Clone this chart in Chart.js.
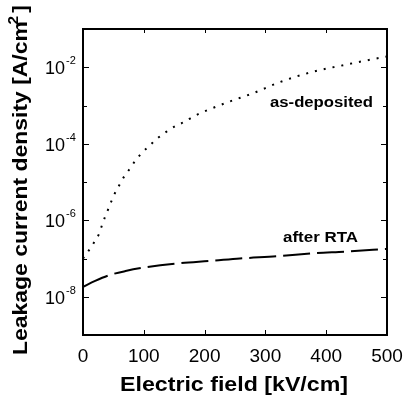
<!DOCTYPE html>
<html>
<head>
<meta charset="utf-8">
<script src="https://cdn.jsdelivr.net/npm/chart.js@4/dist/chart.umd.min.js"></script>
<style>
    html, body { margin: 0; padding: 0; background: #fff; }
    #wrap { width: 403px; height: 399px; position: relative; }
</style>
</head>
<body>
<div id="wrap"><canvas id="myChart"></canvas></div>

<script>
    // electric field [kV/cm] and leakage current density [A/cm2]
    var fieldAsDep = [0, 10, 19, 26, 31, 36, 41, 46, 52, 59, 66, 75, 85, 96, 110, 124, 138, 153, 168, 181, 196, 237, 280, 324, 378, 436, 464, 493, 500];
    var currAsDep = [1.0e-7, 1.66e-7, 2.75e-7, 4.27e-7, 7.2e-7, 1.2e-6, 1.86e-6, 2.95e-6, 4.9e-6, 7.9e-6, 1.26e-5, 2.0e-5, 3.4e-5, 5.6e-5, 9.1e-5, 1.45e-4, 2.1e-4, 2.95e-4, 3.8e-4, 5.1e-4, 6.6e-4, 1.2e-3, 2.1e-3, 4.1e-3, 7.6e-3, 1.2e-2, 1.48e-2, 1.82e-2, 1.9e-2];

    var fieldRTA = [0, 20, 44, 70, 99, 154, 212, 258, 321, 382, 431, 500];
    var currRTA = [1.82e-8, 2.6e-8, 3.7e-8, 4.7e-8, 5.75e-8, 7.4e-8, 8.7e-8, 1.0e-7, 1.15e-7, 1.38e-7, 1.51e-7, 1.78e-7];

    var xTicks = [0, 100, 200, 300, 400, 500];
    var yExpLabels = [-8, -6, -4, -2];
    var yExpAll = [-8, -7, -6, -5, -4, -3, -2];

    var xTitle = 'Electric field [kV/cm]';
    var yTitle = 'Leakage current density [A/cm';
    var FONT = '"Liberation Sans", Arial, Helvetica, sans-serif';

    function toPoints(xs, ys) {
        var pts = [];
        for (var i = 0; i < xs.length; i++) {
            pts.push({ x: xs[i], y: ys[i] });
        }
        return pts;
    }

    // text stretched sideways to a given width (the scan is wider than the font)
    function wideText(ctx, text, x, y, font, width) {
        ctx.save();
        ctx.font = font;
        var w = ctx.measureText(text).width;
        ctx.translate(x, y);
        ctx.scale(width / w, 1);
        ctx.textAlign = 'left';
        ctx.fillText(text, 0, 0);
        ctx.restore();
    }

    // frame, inward ticks, labels and titles
    var decoPlugin = {
        id: 'deco',
        afterDraw: function (chart) {
            var ctx = chart.ctx;
            var a = chart.chartArea;
            var sx = chart.scales.x;
            var sy = chart.scales.y;
            ctx.save();
            ctx.strokeStyle = '#000';
            ctx.fillStyle = '#000';

            ctx.lineWidth = 2;
            ctx.strokeRect(a.left, a.top, a.right - a.left, a.bottom - a.top);

            ctx.lineWidth = 1;
            ctx.beginPath();
            for (var i = 1; i < xTicks.length - 1; i++) {
                var px = Math.round(sx.getPixelForValue(xTicks[i])) + 0.5;
                ctx.moveTo(px, a.bottom);
                ctx.lineTo(px, a.bottom - 5);
                ctx.moveTo(px, a.top);
                ctx.lineTo(px, a.top + 4);
            }
            for (var j = 0; j < yExpAll.length; j++) {
                var py = Math.round(sy.getPixelForValue(Math.pow(10, yExpAll[j]))) + 0.5;
                var len = (yExpAll[j] % 2 === 0) ? 6 : 4;
                ctx.moveTo(a.left, py);
                ctx.lineTo(a.left + len, py);
                ctx.moveTo(a.right, py);
                ctx.lineTo(a.right - len, py);
            }
            ctx.stroke();

            // x tick labels
            ctx.font = '19px ' + FONT;
            ctx.textAlign = 'center';
            ctx.textBaseline = 'alphabetic';
            for (var k = 0; k < xTicks.length; k++) {
                ctx.fillText(String(xTicks[k]), sx.getPixelForValue(xTicks[k]), a.bottom + 27);
            }

            // y tick labels 10^n
            for (var m = 0; m < yExpLabels.length; m++) {
                var ty = sy.getPixelForValue(Math.pow(10, yExpLabels[m]));
                ctx.textAlign = 'left';
                ctx.font = '18px ' + FONT;
                ctx.fillText('10', 45, ty + 7);
                ctx.font = '11px ' + FONT;
                ctx.fillText(String(yExpLabels[m]), 66, ty - 3);
            }

            // x title
            ctx.textBaseline = 'alphabetic';
            wideText(ctx, xTitle, 120, 391, 'bold 21px ' + FONT, 228);

            // y title, rotated, with superscript 2
            ctx.save();
            ctx.translate(27, 355);
            ctx.rotate(-Math.PI / 2);
            ctx.font = 'bold 21px ' + FONT;
            var w1 = ctx.measureText(yTitle).width;
            var w3 = ctx.measureText(']').width;
            ctx.font = 'bold 14px ' + FONT;
            var w2 = ctx.measureText('2').width;
            var s = 350 / (w1 + w2 + w3);
            ctx.scale(s, 1);
            ctx.textAlign = 'left';
            ctx.font = 'bold 21px ' + FONT;
            ctx.fillText(yTitle, 0, 0);
            ctx.fillText(']', w1 + w2, 0);
            ctx.font = 'bold 14px ' + FONT;
            ctx.fillText('2', w1 - 3, -9);
            ctx.restore();

            // curve labels
            wideText(ctx, 'as-deposited', 270, 107, 'bold 14px ' + FONT, 103);
            wideText(ctx, 'after RTA', 283, 242, 'bold 14px ' + FONT, 75);

            ctx.restore();
        }
    };

    var ctx = document.getElementById('myChart').getContext('2d');
    var chart = new Chart(ctx, {
        type: 'line',
        data: {
            datasets: [{
                label: 'as-deposited',
                data: toPoints(fieldAsDep, currAsDep),
                borderColor: '#000',
                borderWidth: 2,
                borderDash: [2, 7],
                pointRadius: 0,
                cubicInterpolationMode: 'monotone',
                fill: false
            }, {
                label: 'after RTA',
                data: toPoints(fieldRTA, currRTA),
                borderColor: '#000',
                borderWidth: 2,
                borderDash: [27, 7],
                pointRadius: 0,
                cubicInterpolationMode: 'monotone',
                fill: false
            }]
        },
        options: {
            responsive: true,
            maintainAspectRatio: false,
            animation: false,
            layout: { padding: { left: 83, top: 29, right: 16, bottom: 64 } },
            plugins: { legend: { display: false }, tooltip: { enabled: false } },
            scales: {
                x: { type: 'linear', min: 0, max: 500, display: false },
                y: { type: 'logarithmic', min: 1e-9, max: 1e-1, display: false }
            }
        },
        plugins: [decoPlugin]
    });
</script>
</body>
</html>
